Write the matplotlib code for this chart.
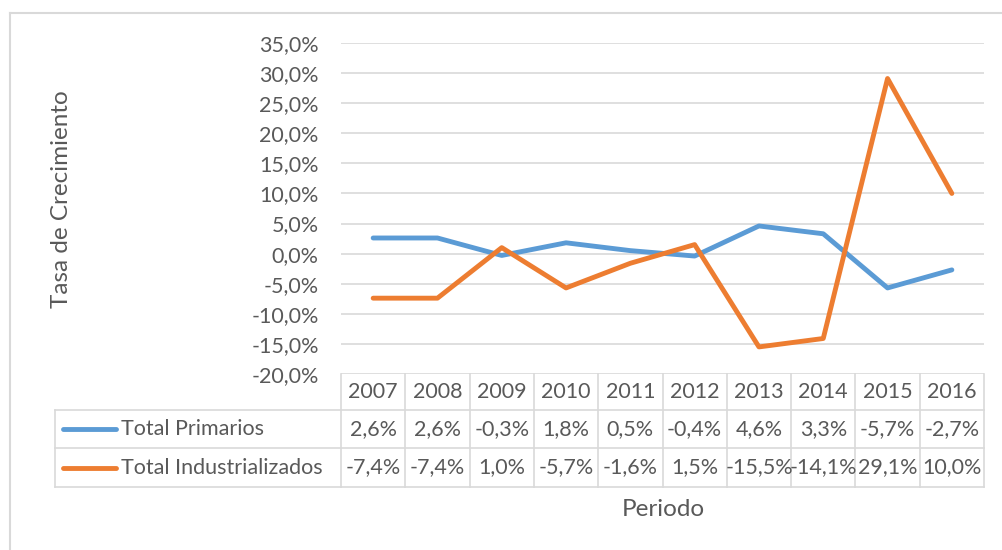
import matplotlib
matplotlib.use("Agg")
import matplotlib.pyplot as plt
from matplotlib.lines import Line2D
import matplotlib.transforms as mtransforms

years = ["2007", "2008", "2009", "2010", "2011", "2012", "2013", "2014", "2015", "2016"]
primarios = [2.6, 2.6, -0.3, 1.8, 0.5, -0.4, 4.6, 3.3, -5.7, -2.7]
industrializados = [-7.4, -7.4, 1.0, -5.7, -1.6, 1.5, -15.5, -14.1, 29.1, 10.0]
series_names = ["Total Primarios", "Total Industrializados"]
yticks = [-20, -15, -10, -5, 0, 5, 10, 15, 20, 25, 30, 35]

BLUE = "#5B9BD5"
ORANGE = "#ED7D31"
GRID = "#D9D9D9"
TXT = "#595959"
FONT = "Lato"
FS = 15.5
FS_TITLE = 17.5

plt.rcParams['font.family'] = [FONT, 'DejaVu Sans']

W, H = 1002, 550
fig = plt.figure(figsize=(W / 100, H / 100), dpi=100)

def fx(px):
    return px / W

def fy(py):
    return 1 - py / H

# outer chart border
fig.add_artist(Line2D([fx(10), fx(1002)], [fy(13), fy(13)], color=GRID, lw=1.5, transform=fig.transFigure))
fig.add_artist(Line2D([fx(10), fx(10)], [fy(13), fy(550)], color=GRID, lw=1.5, transform=fig.transFigure))

left, right, top, bottom = 341, 984, 43, 374
ax = fig.add_axes([fx(left), fy(bottom), fx(right) - fx(left), fy(top) - fy(bottom)])
x = list(range(len(years)))
ax.plot(x, primarios, color=BLUE, lw=3.5, solid_capstyle='round', solid_joinstyle='round', zorder=3)
ax.plot(x, industrializados, color=ORANGE, lw=3.5, solid_capstyle='round', solid_joinstyle='round', zorder=3)
ax.set_xlim(-0.5, len(years) - 0.5)
ax.set_ylim(-20, 35)
ax.set_yticks(yticks)
ax.set_yticklabels([f"{v:.1f}%".replace(".", ",") for v in yticks], fontsize=FS, color=TXT)
ax.tick_params(axis='y', length=0, pad=16)
ax.set_xticks([])
for s in ax.spines.values():
    s.set_visible(False)
ax.grid(axis='y', color=GRID, lw=1.2)
ax.set_axisbelow(True)
ax.set_facecolor('none')

# data table below axes
trans = mtransforms.blended_transform_factory(ax.transData, fig.transFigure)
row_edges_px = [374, 410, 448, 487]
row_edges = [fy(p) for p in row_edges_px]
n = len(years)
for i in range(n + 1):
    xe = i - 0.5
    fig.add_artist(Line2D([xe, xe], [row_edges[0], row_edges[3]], color=GRID, lw=1.2, transform=trans))
for ye in row_edges[1:]:
    fig.add_artist(Line2D([-0.5, n - 0.5], [ye, ye], color=GRID, lw=1.2, transform=trans))
for ye in row_edges[1:]:
    fig.add_artist(Line2D([fx(55), fx(left)], [ye, ye], color=GRID, lw=1.2, transform=fig.transFigure))
fig.add_artist(Line2D([fx(55), fx(55)], [row_edges[1], row_edges[3]], color=GRID, lw=1.2, transform=fig.transFigure))

def mid(a, b):
    return (a + b) / 2

for i, yr in enumerate(years):
    fig.text(i, mid(row_edges[0], row_edges[1]), yr, transform=trans, ha='center', va='center', fontsize=FS, color=TXT)

def fmt(v):
    return f"{v:.1f}%".replace(".", ",")

for r, (vals, col, name) in enumerate([(primarios, BLUE, series_names[0]), (industrializados, ORANGE, series_names[1])]):
    yc = mid(row_edges[r + 1], row_edges[r + 2])
    for i, v in enumerate(vals):
        fig.text(i, yc, fmt(v), transform=trans, ha='center', va='center', fontsize=FS, color=TXT)
    fig.add_artist(Line2D([fx(63), fx(116)], [yc, yc], color=col, lw=3.5, solid_capstyle='round', transform=fig.transFigure))
    fig.text(fx(121), yc, name, ha='left', va='center', fontsize=FS, color=TXT)

fig.text(fx(663), fy(509), "Periodo", ha='center', va='center', fontsize=FS_TITLE, color=TXT)
fig.text(fx(62), fy(199), "Tasa de Crecimiento", ha='center', va='center', rotation=90, fontsize=FS_TITLE, color=TXT)

fig.savefig("out.png", dpi=100, facecolor='white')
